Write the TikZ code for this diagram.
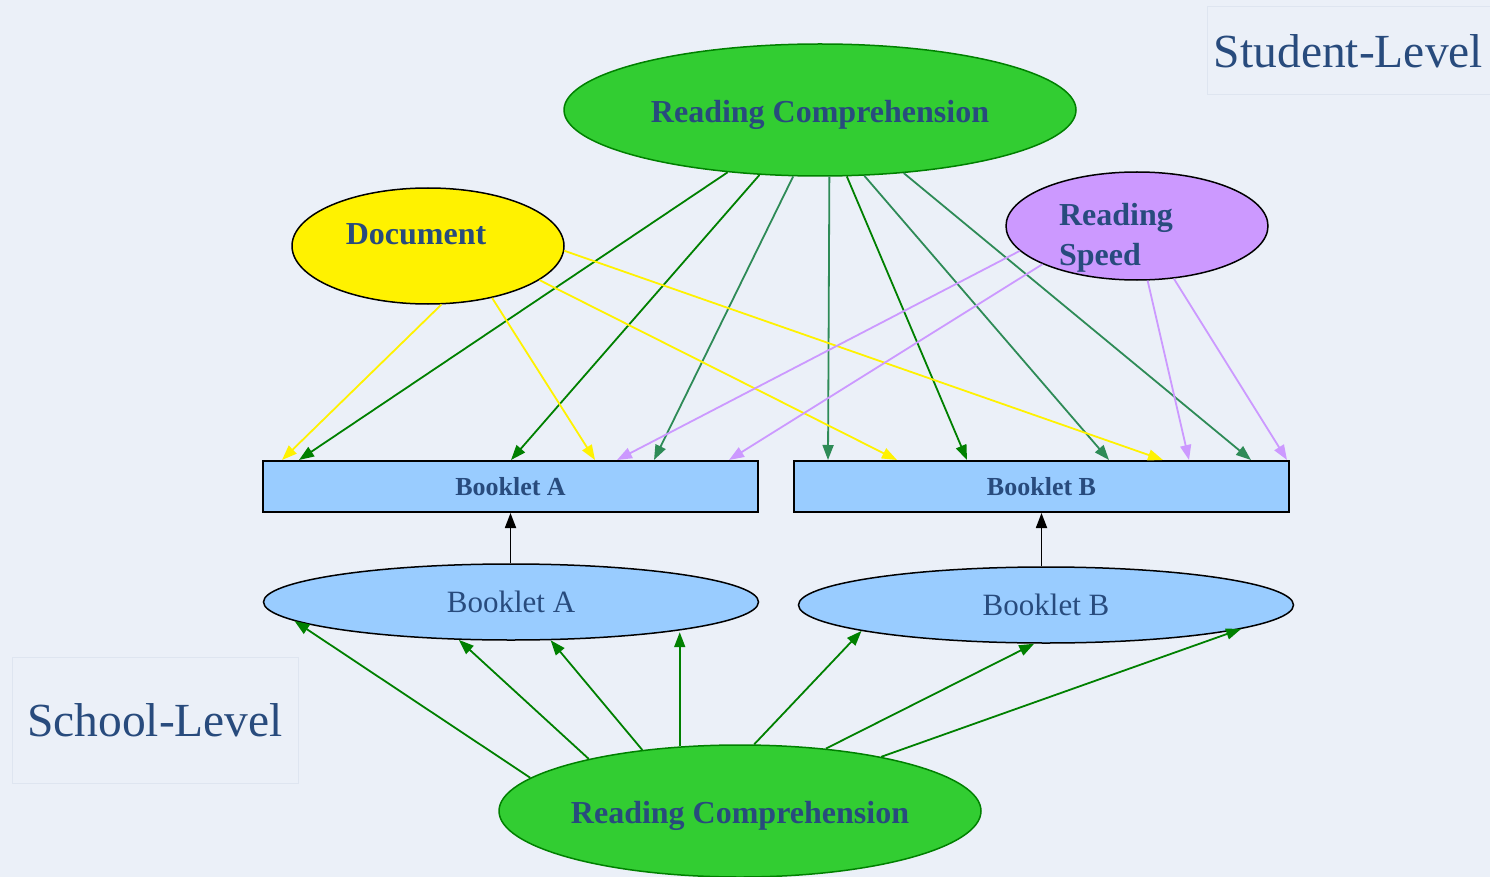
\documentclass[tikz,border=0pt]{standalone}
\usepackage{fontspec}
\setmainfont{Liberation Serif}
\usetikzlibrary{shapes.geometric,arrows.meta}

\definecolor{bgblue}{RGB}{235,240,248}
\definecolor{lvlline}{RGB}{222,229,240}
\definecolor{txtblue}{RGB}{40,75,125}
\definecolor{limeg}{RGB}{50,205,50}
\definecolor{dkgreen}{RGB}{0,128,0}
\definecolor{seagr}{RGB}{46,139,87}
\definecolor{lilac}{RGB}{204,153,255}
\definecolor{skyb}{RGB}{153,204,255}

\begin{document}
\begin{tikzpicture}[x=1pt,y=-1pt,
  every node/.style={inner sep=0pt, text=txtblue},
  lvlbox/.style={draw=lvlline, line width=1pt, font=\fontsize{47.5}{56}\selectfont},
  rcell/.style={ellipse, draw=dkgreen, fill=limeg, line width=1.5pt, minimum height=132pt,
    label={[yshift=-5pt,font=\fontsize{32}{38}\bfseries]center:Reading Comprehension}},
  facell/.style={ellipse, draw=black, line width=1.5pt},
  bookbox/.style={rectangle, draw=black, fill=skyb, line width=2pt, minimum width=495pt, minimum height=51pt, font=\fontsize{26}{30}\bfseries},
  bookell/.style={ellipse, draw=black, fill=skyb, line width=1.5pt, minimum width=495pt, minimum height=76pt, font=\fontsize{31}{36}\selectfont},
  tip/.style={-{Triangle[length=15pt,width=11pt]}, line width=1.8pt},
  gline/.style={tip, draw=dkgreen},
  sgline/.style={tip, draw=seagr},
  yline/.style={tip, draw=yellow},
  pline/.style={tip, draw=lilac},
  kline/.style={tip, draw=black}]

%Background
\fill [bgblue] (0,0) rectangle (1490,877);
\useasboundingbox (0,0) rectangle (1490,877);

% Level labels
\node [lvlbox, minimum width=283pt, minimum height=88pt] (stud) at (1348.5,51) {Student-Level};
\node [lvlbox, minimum width=286pt, minimum height=126pt] (school) at (155,720) {School-Level};

% Student-level factors
\node [rcell, minimum width=512pt] (rcTop) at (820,110) {};
\node [facell, fill=yellow, minimum width=272pt, minimum height=116pt,
  label={[xshift=-12pt,yshift=12pt,font=\fontsize{32}{38}\bfseries]center:Document}] (doc) at (428,246) {};
\node [facell, fill=lilac, minimum width=262pt, minimum height=108pt,
  label={[xshift=-21pt,yshift=-12pt,align=left,font=\fontsize{32}{40}\bfseries]center:Reading\\Speed}] (speed) at (1137,226) {};

% Booklets
\node [bookbox] (bookA) at (510.5,486.5) {Booklet A};
\node [bookbox] (bookB) at (1041.5,486.5) {Booklet B};
\node [bookell] (bkA) at (511,602) {Booklet A};
\node [bookell] (bkB) at (1046,605) {Booklet B};

% School-level factor
\node [rcell, minimum width=482pt] (rcBot) at (740,811) {};

% Reading comprehension -> booklets
\draw [gline] (rcTop.214) -- ([xshift=37pt]bookA.north west);
\draw [gline] (rcTop.227) -- ([xshift=249pt]bookA.north west);
\draw [sgline] (rcTop.248) -- ([xshift=392pt]bookA.north west);
\draw [sgline] (rcTop.278) -- ([xshift=35pt]bookB.north west);
\draw [gline] (rcTop.292) -- ([xshift=174pt]bookB.north west);
\draw [sgline] (rcTop.304) -- ([xshift=316pt]bookB.north west);
\draw [sgline] (rcTop.323.5) -- ([xshift=458pt]bookB.north west);

% Document -> booklets
\draw [yline] (doc.283.6) -- ([xshift=20pt]bookA.north west);
\draw [yline] (doc.321) -- ([xshift=333pt]bookA.north west);
\draw [yline] (doc.343.3) -- ([xshift=104pt]bookB.north west);
\draw [yline] (doc.358.7) -- ([xshift=370pt]bookB.north west);

% Reading speed -> booklets
\draw [pline] (speed.192) -- ([xshift=355pt]bookA.north west);
\draw [pline] (speed.202.5) -- ([xshift=467pt]bookA.north west);
\draw [pline] (speed.281.5) -- ([xshift=396pt]bookB.north west);
\draw [pline] (speed.305.4) -- ([xshift=494pt]bookB.north west);

% School level
\draw [kline] (bookA.south |- bkA.north) -- (bookA.south);
\draw [kline] (bookB.south |- bkB.north) -- (bookB.south);

\draw [gline] (rcBot.171.5) -- (bkA.185.3);
\draw [gline] (rcBot.161) -- (bkA.216.2);
\draw [gline] (rcBot.148.6) -- (bkA.316.5);
\draw [gline] (rcBot.133.2) -- (bkA.349.5 -| rcBot.133.2);
\draw [gline] (rcBot.78) -- (bkB.188.8);
\draw [gline] (rcBot.36.9) -- (bkB.253.9);
\draw [gline] (rcBot.21) -- (bkB.353.1);

\end{tikzpicture}
\end{document}
